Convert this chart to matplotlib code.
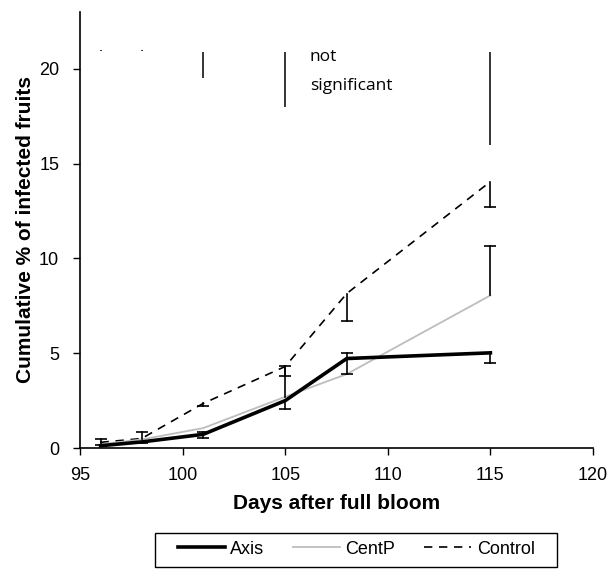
import matplotlib.pyplot as plt
from matplotlib.patches import Rectangle

plt.rcParams["font.family"] = ["Liberation Sans", "DejaVu Sans"]

days = [96, 98, 101, 105, 108, 115]
axis_vals = [0.12, 0.32, 0.72, 2.5, 4.72, 5.02]
centp_vals = [0.2, 0.45, 1.05, 2.7, 3.9, 8.05]
control_vals = [0.3, 0.5, 2.35, 4.3, 8.15, 14.05]

# ends of the error bars (None = no bar on that side)
axis_lo = [None, 0.25, 0.52, 2.05, 3.9, 4.5]
axis_hi = [None, None, 0.85, None, 5.03, None]
centp_lo = [None, None, None, None, None, None]
centp_hi = [None, 0.86, None, 4.3, None, 10.65]
control_lo = [0.15, None, 2.2, 3.8, 6.7, 12.7]
control_hi = [0.45, None, None, None, None, None]

# significance markers drawn at the top
sig_days = [96, 98, 101, 105, 115]
sig_top = [21.0, 21.0, 20.9, 20.9, 20.9]
sig_bottom = [20.95, 20.95, 19.5, 18.0, 16.0]

fig = plt.figure(figsize=(6.11, 5.71), dpi=100)
ax = fig.add_axes([0.131, 0.2154, 0.8395, 0.7636])

ax.plot(days, control_vals, color="black", lw=1.2, ls=(0, (5, 4)), label="Control")
ax.plot(days, centp_vals, color="#bdbdbd", lw=1.3, label="CentP")
ax.plot(days, axis_vals, color="black", lw=2.6, label="Axis")

for vals, ends_lo, ends_hi in [(axis_vals, axis_lo, axis_hi),
                               (centp_vals, centp_lo, centp_hi),
                               (control_vals, control_lo, control_hi)]:
    for x, v, lo, hi in zip(days, vals, ends_lo, ends_hi):
        for end in (lo, hi):
            if end is None:
                continue
            ax.plot([x, x], [v, end], color="black", lw=1.2)
            ax.plot([x], [end], marker="_", ms=8, mew=1.2, color="black")

ax.vlines(sig_days, sig_bottom, sig_top, colors="black", lw=1.1)
ax.text(106.2, 21.05, "not\nsignificant", fontsize=12.5, family=["Open Sans", "DejaVu Sans"],
        va="top", ha="left", linespacing=2.05)

ax.set_xlim(95, 120)
ax.set_ylim(0, 23)
ax.set_xticks([95, 100, 105, 110, 115, 120])
ax.set_yticks([0, 5, 10, 15, 20])
ax.tick_params(labelsize=13, direction="out", length=5, width=1)
ax.tick_params(axis="x", pad=9)
ax.tick_params(axis="y", pad=10)
ax.spines["top"].set_visible(False)
ax.spines["right"].set_visible(False)
ax.spines["left"].set_linewidth(1.2)
ax.spines["bottom"].set_linewidth(1.2)

ax.set_xlabel("Days after full bloom", fontsize=15, fontweight="bold", labelpad=7)
ax.set_ylabel("Cumulative % of infected fruits", fontsize=15, fontweight="bold", labelpad=3)

handles, labels = ax.get_legend_handles_labels()
order = [2, 1, 0]
fig.legend([handles[i] for i in order], [labels[i] for i in order],
           loc="center", bbox_to_anchor=(0.583, 0.0385),
           ncol=3, fontsize=13, frameon=False,
           handlelength=2.6, handletextpad=0.3, columnspacing=1.6, borderaxespad=0)
# legend frame, wider than its content as in the original
fig.patches.append(Rectangle((0.254, 0.007), 0.658, 0.0595, transform=fig.transFigure,
                             fill=False, edgecolor="black", lw=1.0))

fig.savefig("out.png", dpi=100)
